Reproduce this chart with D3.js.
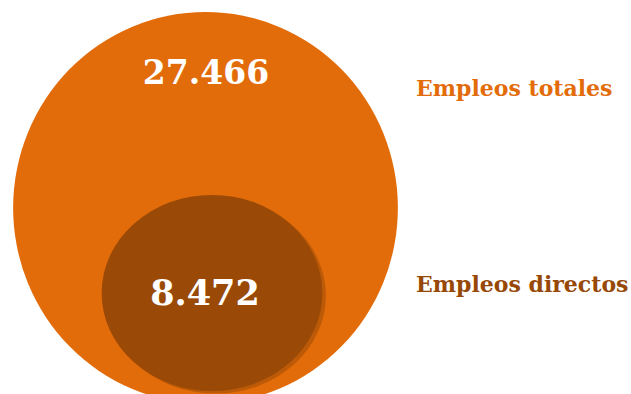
<!DOCTYPE html>
<html>
<head>
<meta charset="utf-8">
<script src="https://cdn.jsdelivr.net/npm/d3@7"></script>
<style>
  html, body { margin: 0; padding: 0; background: #ffffff; }
  svg { display: block; }
</style>
</head>
<body>
<svg id="chart" width="631" height="394"></svg>
<script>
// Employment figures: total jobs and the direct jobs contained in them
const categories = ["Empleos totales", "Empleos directos"];
const values = [27466, 8472];
const fills = ["#e36c0a", "#9a4a06"];
const labelColors = ["#e36c0a", "#974806"];

const W = 631, H = 394;
const svg = d3.select("#chart");

// Spanish number format: dot as thousands separator
const es = d3.formatLocale({ decimal: ",", thousands: ".", grouping: [3], currency: ["", " €"] });
const fmt = es.format(",d");

// Bubble area proportional to value
const r = d3.scaleSqrt().domain([0, d3.max(values)]).range([0, 192]);

// Nested bubbles: the outer bubble hangs from the top, the inner one sits near its bottom
const outerR = r(values[0]);
const outer = { cx: 205.5, rx: outerR * 1.002, ry: outerR * 1.02 };
outer.cy = 12 + outer.ry;
const innerR = r(values[1]);
const inner = { cx: 212, cy: 293, rx: innerR * 1.035, ry: innerR * 0.92 };
const shapes = [outer, inner];

const serif = "'DejaVu Serif', 'Liberation Serif', serif";

const g = svg.append("g");

// soft shadow rim under the inner bubble
g.append("ellipse")
  .attr("cx", inner.cx + 3.5).attr("cy", inner.cy + 2.5)
  .attr("rx", inner.rx).attr("ry", inner.ry)
  .attr("fill", "#bd5a08");

g.selectAll("ellipse.bubble")
  .data(values)
  .join("ellipse")
  .attr("class", "bubble")
  .attr("cx", (d, i) => shapes[i].cx)
  .attr("cy", (d, i) => shapes[i].cy)
  .attr("rx", (d, i) => shapes[i].rx)
  .attr("ry", (d, i) => shapes[i].ry)
  .attr("fill", (d, i) => fills[i]);

// stacking: outer bubble, then shadow, then inner bubble
g.selectAll("ellipse.bubble").filter((d, i) => i === 0).lower();

// value labels inside the bubbles
const valueY = [84, 305];
svg.selectAll("text.value")
  .data(values)
  .join("text")
  .attr("class", "value")
  .attr("x", (d, i) => i === 0 ? 206 : 205)
  .attr("y", (d, i) => valueY[i])
  .attr("text-anchor", "middle")
  .attr("font-family", serif)
  .attr("font-weight", "bold")
  .attr("font-size", (d, i) => i === 0 ? 33 : 35)
  .attr("fill", "#ffffff")
  .text(d => fmt(d));

// category labels to the right
const catY = [96, 292];
svg.selectAll("text.cat")
  .data(categories)
  .join("text")
  .attr("class", "cat")
  .attr("x", 416)
  .attr("y", (d, i) => catY[i])
  .attr("font-family", serif)
  .attr("font-weight", "bold")
  .attr("font-size", 22)
  .attr("fill", (d, i) => labelColors[i])
  .text(d => d);
</script>
</body>
</html>
